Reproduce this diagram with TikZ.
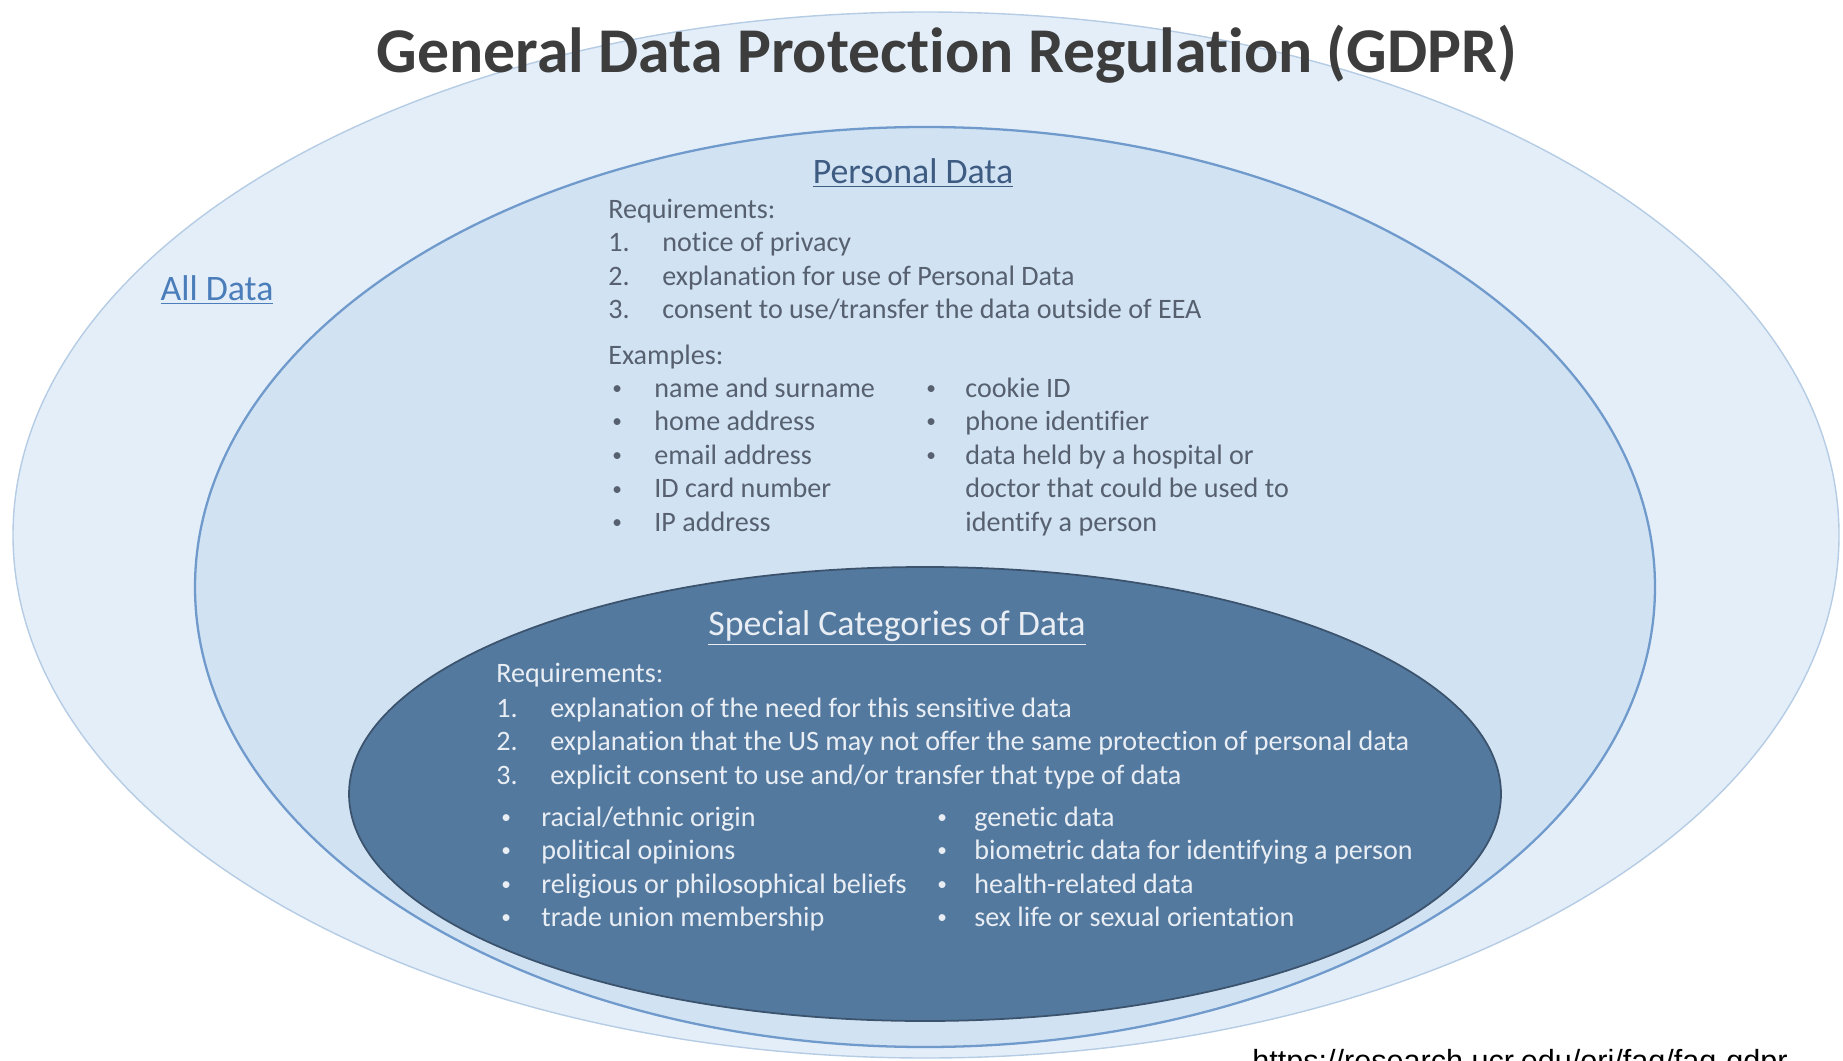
\documentclass[tikz,border=0pt]{standalone}
\usepackage{fontspec}
\setmainfont{Carlito}[Ligatures=NoCommon]
\newfontfamily\urlfont{Liberation Sans}
\definecolor{allfill}{HTML}{E3EEF9}
\definecolor{allline}{HTML}{B5CCE4}
\definecolor{pdfill}{HTML}{D1E2F3}
\definecolor{pdline}{HTML}{6F9ACB}
\definecolor{scfill}{HTML}{54799F}
\definecolor{scline}{HTML}{3C536D}
\definecolor{titlegray}{HTML}{3D3D3D}
\definecolor{pdgray}{HTML}{56606E}
\definecolor{sclight}{HTML}{E9EEF4}
\definecolor{allblue}{HTML}{4A7DBA}
\definecolor{pdhead}{HTML}{3E5C82}
\newcommand{\smallbul}{\raisebox{1.5pt}{\fontsize{11}{12}\selectfont •}}

\begin{document}
\begin{tikzpicture}[x=0.02cm,y=-0.02cm,
		pdtext/.style={anchor=base west, inner sep=0pt, text=pdgray, font=\fontsize{16}{19}\selectfont},
		sctext/.style={pdtext, text=sclight},
		heading/.style={inner sep=0pt, font=\fontsize{20.4}{24}\selectfont}]
				\useasboundingbox (0,0) rectangle (1843,1061);
				\clip (0,0) rectangle (1843,1061);
				
				% the three nested sets
				\draw[fill=allfill, draw=allline, line width=0.8pt] (926,535) ellipse [x radius=913, y radius=523];
				\draw[fill=pdfill, draw=pdline, line width=1.3pt] (925,587) ellipse [x radius=730, y radius=460];
				\draw[fill=scfill, draw=scline, line width=1pt] (925,794) ellipse [x radius=576, y radius=227];
				
				\node[anchor=base, inner sep=0pt, text=titlegray, font=\fontsize{36.3}{42}\selectfont\bfseries] (title) at (947,73) {General Data Protection Regulation (GDPR)};
				\node[heading, text=allblue] (alldata) at (217,290) {\underline{All Data}};
				\node[heading, text=pdhead] (pdhead) at (913,173) {\underline{Personal Data}};
				\node[heading, text=sclight] (schead) at (897,628) {\underline{Special Categories of Data}};
				
				% personal data
				\node[pdtext] (pdreq) at (608,218) {Requirements:};
				\foreach \t [count=\i] in {notice of privacy, explanation for use of Personal Data, consent to use/transfer the data outside of EEA}
				{\node[pdtext] (pdnum\i) at (608,{218+33.6*\i}) {\i.};
				 \node[pdtext] (pdreq\i) at (662,{218+33.6*\i}) {\t};}
				\node[pdtext] (pdex) at (608,364) {Examples:};
				\foreach \t [count=\i] in {name and surname, home address, email address, ID card number, IP address}
				{\node[pdtext] (pdbul\i) at (612,{363.4+33.6*\i}) {\smallbul};
				 \node[pdtext] (pdex\i) at (654,{363.4+33.6*\i}) {\t};}
				\foreach \t [count=\i] in {cookie ID, phone identifier, data held by a hospital or}
				{\node[pdtext] (pdbulr\i) at (926,{363.4+33.6*\i}) {\smallbul};}
				\foreach \t [count=\i] in {cookie ID, phone identifier, data held by a hospital or, doctor that could be used to, identify a person}
				{\node[pdtext] (pdexr\i) at (965,{363.4+33.6*\i}) {\t};}
				
				% special categories
				\node[sctext] (screq) at (496,682) {Requirements:};
				\foreach \t [count=\i] in {explanation of the need for this sensitive data, explanation that the US may not offer the same protection of personal data, explicit consent to use and/or transfer that type of data}
				{\node[sctext] (scnum\i) at (496,{683.5+33.5*\i}) {\i.};
				 \node[sctext] (screq\i) at (550,{683.5+33.5*\i}) {\t};}
				\foreach \t [count=\i] in {racial/ethnic origin, political opinions, religious or philosophical beliefs, trade union membership}
				{\node[sctext] (scbul\i) at (501,{792.5+33.5*\i}) {\smallbul};
				 \node[sctext] (scex\i) at (541,{792.5+33.5*\i}) {\t};}
				\foreach \t [count=\i] in {genetic data, biometric data for identifying a person, health-related data, sex life or sexual orientation}
				{\node[sctext] (scbulr\i) at (937,{792.5+33.5*\i}) {\smallbul};
				 \node[sctext] (scexr\i) at (974,{792.5+33.5*\i}) {\t};}
				
				\node[anchor=base west, inner sep=0pt, font=\urlfont\fontsize{17.4}{20}\selectfont] (source) at (1252,1071) {https://research.ucr.edu/ori/faq/faq-gdpr};
			\end{tikzpicture}
\end{document}
